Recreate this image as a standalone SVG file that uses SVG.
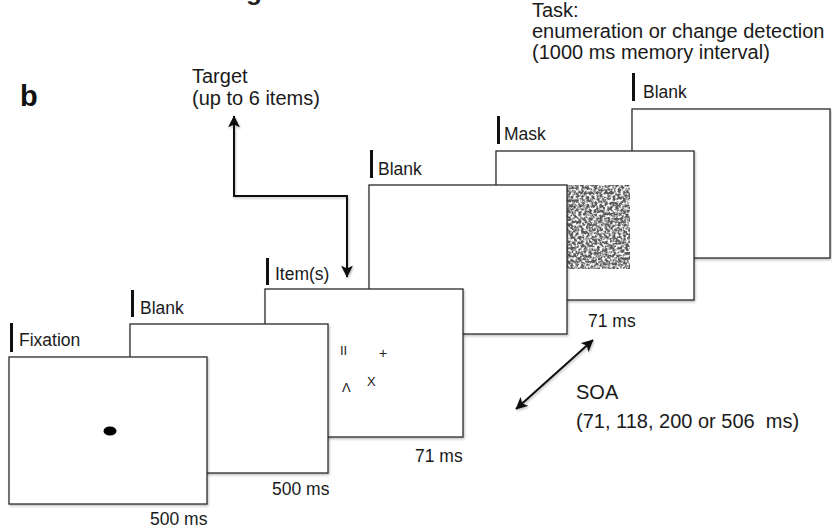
<svg xmlns="http://www.w3.org/2000/svg" width="832" height="528" viewBox="0 0 832 528">
<style>
  .panel { fill: #ffffff; stroke: #2b2b2b; stroke-width: 1.3; }
  .bar { fill: #111111; }
  .lbl { font-family: "Liberation Sans", Arial, sans-serif; font-size: 17.5px; fill: #1a1a1a; }
  .big { font-family: "Liberation Sans", Arial, sans-serif; font-size: 20px; fill: #1a1a1a; }
  .item { font-family: "Liberation Sans", Arial, sans-serif; font-size: 13px; fill: #222222; }
  .conn { fill: none; stroke: #111111; stroke-width: 2; }
</style>
<defs>
  <marker id="ah" viewBox="0 0 10 10" refX="9.5" refY="5" markerWidth="6" markerHeight="6" orient="auto-start-reverse" markerUnits="strokeWidth">
    <path d="M0,0 L10,5 L0,10 L2.5,5 z" fill="#111111"/>
  </marker>
  <filter id="shadow" x="-5%" y="-5%" width="115%" height="115%">
    <feDropShadow dx="1" dy="1.5" stdDeviation="1" flood-color="#000" flood-opacity="0.25"/>
  </filter>
  <filter id="noise" x="0" y="0" width="1" height="1" filterUnits="objectBoundingBox">
    <feTurbulence type="fractalNoise" baseFrequency="0.38" numOctaves="2" seed="7" result="t"/>
    <feColorMatrix in="t" type="matrix" values="0 0 0 0 0.1  0 0 0 0 0.1  0 0 0 0 0.1  -3.4 0 0 0 2.3" result="c"/>
    <feGaussianBlur in="c" stdDeviation="0.45"/>
  </filter>
</defs>
<rect width="832" height="528" fill="#ffffff"/>

<text x="262" y="0" text-anchor="end" style="font-family:'Liberation Sans',Arial,sans-serif;font-size:26px;font-weight:bold;fill:#222">Backward masking</text>
<text x="20" y="106" style="font-family:'Liberation Sans',Arial,sans-serif;font-size:29px;font-weight:bold;fill:#111">b</text>

<text class="big" x="532" y="17">Task:</text>
<text class="big" x="532" y="38">enumeration or change detection</text>
<text class="big" x="532" y="59">(1000 ms memory interval)</text>

<text class="big" x="192" y="83">Target</text>
<text class="big" x="192" y="105">(up to 6 items)</text>

<g id="panel6">
  <rect class="panel" x="632" y="109" width="198" height="149" filter="url(#shadow)"/>
  <rect class="bar" x="632" y="73" width="3" height="28"/>
  <text class="lbl" x="643" y="98">Blank</text>
</g>

<g id="panel5">
  <rect class="panel" x="496" y="151" width="198" height="149" filter="url(#shadow)"/>
  <rect x="567" y="185" width="63" height="84" fill="#fff" filter="url(#noise)"/>
  <rect class="bar" x="497" y="116" width="3" height="28"/>
  <text class="lbl" x="504" y="140">Mask</text>
  <text class="lbl" x="588" y="327">71 ms</text>
</g>

<g id="panel4">
  <rect class="panel" x="369" y="185" width="198" height="149" filter="url(#shadow)"/>
  <rect class="bar" x="370" y="150" width="3" height="28"/>
  <text class="lbl" x="378" y="175">Blank</text>
</g>

<g id="panel3">
  <rect class="panel" x="265" y="289" width="198" height="148" filter="url(#shadow)"/>
  <rect class="bar" x="266" y="258" width="3" height="27"/>
  <text class="lbl" x="275" y="280">Item(s)</text>
  <text class="item" x="340" y="355">II</text>
  <text class="item" x="383" y="358" text-anchor="middle" style="font-size:14px">+</text>
  <text class="item" x="342" y="392">Λ</text>
  <text class="item" x="367" y="386">X</text>
  <text class="lbl" x="415" y="462">71 ms</text>
</g>

<g id="panel2">
  <rect class="panel" x="130" y="324" width="198" height="149" filter="url(#shadow)"/>
  <rect class="bar" x="131" y="290" width="3" height="27"/>
  <text class="lbl" x="140" y="314">Blank</text>
  <text class="lbl" x="272" y="495">500 ms</text>
</g>

<g id="panel1">
  <rect class="panel" x="9" y="357" width="198" height="147" filter="url(#shadow)"/>
  <rect class="bar" x="10" y="323" width="3" height="29"/>
  <text class="lbl" x="19" y="346">Fixation</text>
  <ellipse cx="110" cy="431" rx="6.5" ry="4.5" fill="#000"/>
  <text class="lbl" x="150" y="525">500 ms</text>
</g>

<g id="connectors" filter="url(#shadow)">
  <path class="conn" d="M347,277 L347,196 L234,196 L234,116" marker-start="url(#ah)" marker-end="url(#ah)"/>
  <path class="conn" d="M516,409 L593,340" marker-start="url(#ah)" marker-end="url(#ah)"/>
</g>

<text class="big" x="576" y="399">SOA</text>
<text class="big" x="576" y="428" xml:space="preserve">(71, 118, 200 or 506  ms)</text>
</svg>
